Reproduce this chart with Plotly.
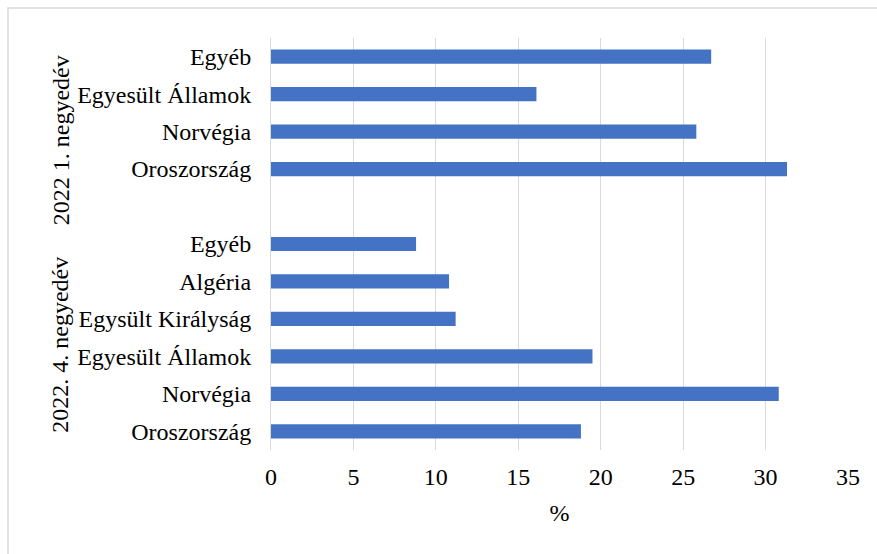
import plotly.graph_objects as go

# Data (top-to-bottom order as shown in the chart)
q1_label = "2022 1. negyedév"
q4_label = "2022. 4. negyedév"
q1_countries = ["Egyéb", "Egyesült Államok", "Norvégia", "Oroszország"]
q1_values = [26.7, 16.1, 25.8, 31.3]
q4_countries = ["Egyéb", "Algéria", "Egysült Királyság", "Egyesült Államok", "Norvégia", "Oroszország"]
q4_values = [8.8, 10.8, 11.2, 19.5, 30.8, 18.8]
x_ticks = [0, 5, 10, 15, 20, 25, 30, 35]
x_title = "%"

# Build positions: bottom slot = 0; Q4 group at bottom, blank slot, Q1 group on top
labels = list(reversed(q4_countries)) + [""] + list(reversed(q1_countries))
values = list(reversed(q4_values)) + [None] + list(reversed(q1_values))
pos = list(range(len(labels)))

bar_pos = [p for p, v in zip(pos, values) if v is not None]
bar_val = [v for v in values if v is not None]

FONT = "Liberation Serif, Times New Roman, serif"
FS = 24

fig = go.Figure()
fig.add_trace(go.Bar(
    x=bar_val, y=bar_pos, orientation="h",
    marker=dict(color="#4472C4", line=dict(width=0)),
    width=0.38,
))

n4 = len(q4_countries)
n_all = len(labels)
q4_center = (0 + n4 - 1) / 2 - 0.18
q1_center = (n4 + n_all - 1) / 2 - 0.22

for txt, yc in [(q1_label, q1_center), (q4_label, q4_center)]:
    fig.add_annotation(text=txt, textangle=-90, xref="paper", yref="y",
                       x=-0.365, y=yc, xanchor="center", yanchor="middle",
                       showarrow=False,
                       font=dict(family=FONT, size=FS, color="black"))

# outer chart border (left/top visible)
fig.add_shape(type="rect", xref="paper", yref="paper",
              x0=-0.4558, x1=1.06, y0=-0.27, y1=1.0728,
              line=dict(color="#d9d9d9", width=1.5), fillcolor="rgba(0,0,0,0)", layer="below")

fig.update_layout(
    width=877, height=554,
    margin=dict(l=271, r=29, t=38, b=104),
    paper_bgcolor="white", plot_bgcolor="white",
    showlegend=False,
    font=dict(family=FONT, size=FS, color="black"),
    xaxis=dict(
        range=[0, 35], tickvals=x_ticks, ticktext=[str(t) for t in x_ticks],
        showgrid=True, gridcolor="#d9d9d9", gridwidth=1,
        zeroline=False, showline=False, ticks="",
        ticklabelstandoff=10,
        title=dict(text=x_title, standoff=15, font=dict(family=FONT, size=FS)),
        tickfont=dict(family=FONT, size=FS, color="black"),
    ),
    yaxis=dict(
        range=[-0.5, n_all - 0.5], tickvals=pos, ticktext=labels,
        showgrid=False, zeroline=False,
        showline=True, linecolor="#d9d9d9", linewidth=1,
        ticks="", ticklabelstandoff=14,
        tickfont=dict(family=FONT, size=FS, color="black"),
    ),
)

fig.write_html("out.html")
